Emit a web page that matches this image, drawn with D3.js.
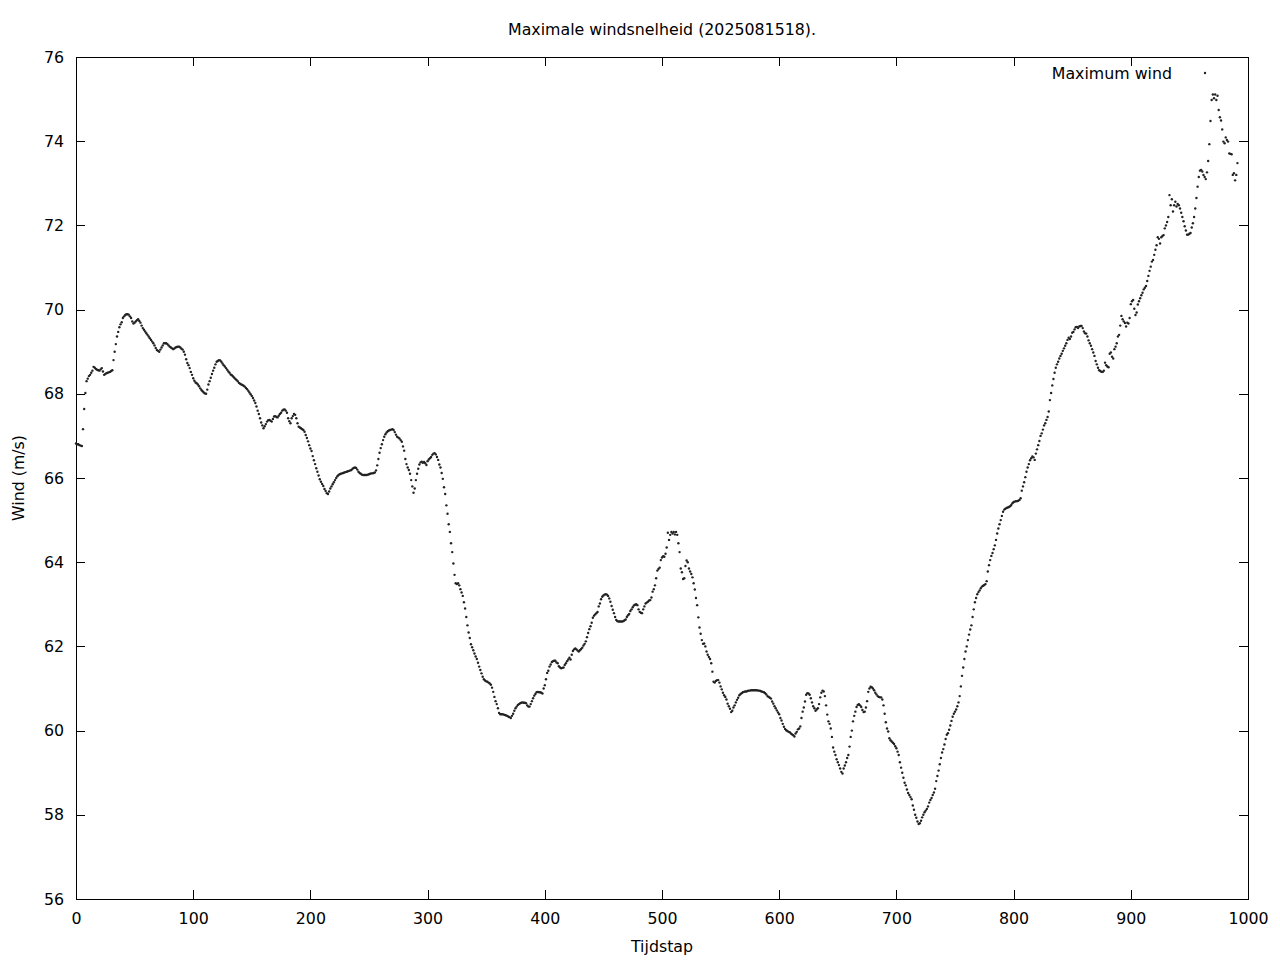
<!DOCTYPE html>
<html>
<head>
<meta charset="utf-8">
<script src="https://cdn.jsdelivr.net/npm/d3@7"></script>
<style>
  html, body { margin: 0; padding: 0; background: #fff; }
  svg { display: block; font-family: "DejaVu Sans", sans-serif; }
</style>
</head>
<body>
<svg id="chart" width="1280" height="960"></svg>
<script>
// ---- data ----
const titleText = "Maximale windsnelheid (2025081518).";
const xLabel = "Tijdstap";
const yLabel = "Wind (m/s)";
const seriesName = "Maximum wind";
const xTicks = [0, 100, 200, 300, 400, 500, 600, 700, 800, 900, 1000];
const yTicks = [56, 58, 60, 62, 64, 66, 68, 70, 72, 74, 76];
const xDomain = [0, 1000];
const yDomain = [56, 76];
// maximum wind per time step (index = Tijdstap)
const windValues = [
66.82,66.8,66.8,66.78,66.77,66.76,67.16,67.64,68.02,68.3,
68.36,68.42,68.45,68.5,68.55,68.64,68.62,68.59,68.57,68.56,
68.55,68.58,68.61,68.53,68.45,68.47,68.49,68.5,68.51,68.52,
68.54,68.56,68.8,69.0,69.18,69.36,69.47,69.58,69.65,69.7,
69.8,69.84,69.87,69.89,69.89,69.88,69.84,69.8,69.72,69.67,
69.69,69.72,69.75,69.77,69.73,69.69,69.62,69.56,69.52,69.48,
69.44,69.4,69.36,69.32,69.28,69.24,69.2,69.15,69.09,69.04,
69.02,69.0,69.05,69.1,69.15,69.2,69.2,69.2,69.18,69.15,
69.12,69.1,69.08,69.06,69.08,69.1,69.11,69.12,69.12,69.1,
69.07,69.05,69.0,68.93,68.82,68.73,68.68,68.61,68.52,68.45,
68.37,68.31,68.27,68.25,68.22,68.18,68.13,68.09,68.06,68.03,
68.01,68.0,68.1,68.22,68.3,68.38,68.47,68.55,68.62,68.7,
68.76,68.78,68.8,68.79,68.76,68.72,68.68,68.65,68.61,68.57,
68.53,68.5,68.46,68.44,68.41,68.38,68.35,68.33,68.3,68.26,
68.24,68.22,68.21,68.19,68.17,68.14,68.11,68.07,68.03,67.99,
67.95,67.9,67.84,67.78,67.7,67.6,67.52,67.42,67.32,67.25,
67.18,67.23,67.28,67.34,67.37,67.38,67.36,67.34,67.4,67.46,
67.47,67.45,67.44,67.48,67.52,67.55,67.6,67.62,67.63,67.6,
67.55,67.42,67.35,67.3,67.42,67.47,67.52,67.5,67.42,67.3,
67.22,67.2,67.18,67.16,67.14,67.1,67.02,66.95,66.87,66.78,
66.7,66.64,66.52,66.42,66.33,66.23,66.15,66.06,65.97,65.91,
65.86,65.81,65.74,65.69,65.64,65.62,65.68,65.75,65.8,65.85,
65.9,65.95,66.0,66.04,66.07,66.09,66.1,66.11,66.12,66.13,
66.14,66.15,66.16,66.17,66.18,66.19,66.22,66.24,66.25,66.24,
66.2,66.15,66.12,66.1,66.08,66.07,66.07,66.07,66.07,66.08,
66.09,66.1,66.11,66.11,66.12,66.13,66.18,66.3,66.45,66.6,
66.71,66.8,66.9,66.98,67.04,67.08,67.11,67.13,67.14,67.15,
67.16,67.14,67.09,67.03,66.98,66.96,66.94,66.9,66.86,66.75,
66.65,66.45,66.33,66.25,66.19,66.1,65.95,65.8,65.65,65.75,
65.95,66.1,66.22,66.32,66.37,66.39,66.36,66.38,66.35,66.31,
66.4,66.44,66.47,66.5,66.55,66.58,66.59,66.56,66.5,66.43,
66.32,66.25,66.12,65.98,65.78,65.62,65.35,65.15,64.9,64.72,
64.45,64.24,63.97,63.7,63.5,63.48,63.5,63.45,63.36,63.28,
63.2,63.05,62.9,62.7,62.5,62.33,62.2,62.05,61.98,61.91,
61.83,61.76,61.7,61.61,61.52,61.44,61.36,61.28,61.22,61.19,
61.17,61.16,61.14,61.12,61.09,61.02,60.92,60.8,60.7,60.63,
60.53,60.42,60.39,60.39,60.39,60.38,60.37,60.36,60.35,60.33,
60.32,60.3,60.35,60.4,60.47,60.53,60.57,60.61,60.63,60.65,
60.66,60.67,60.66,60.66,60.65,60.6,60.57,60.57,60.63,60.7,
60.77,60.83,60.87,60.91,60.92,60.91,60.91,60.9,60.88,61.0,
61.08,61.22,61.37,61.42,61.52,61.57,61.63,61.65,61.66,61.66,
61.62,61.6,61.53,61.5,61.48,61.49,61.5,61.56,61.6,61.65,
61.69,61.73,61.69,61.8,61.89,61.93,61.95,61.93,61.9,61.88,
61.91,61.94,61.97,62.02,62.06,62.12,62.22,62.32,62.41,62.48,
62.56,62.68,62.73,62.76,62.79,62.82,62.95,63.02,63.12,63.18,
63.21,63.23,63.24,63.23,63.2,63.14,63.06,62.96,62.87,62.79,
62.7,62.63,62.6,62.59,62.59,62.59,62.59,62.6,62.62,62.64,
62.7,62.74,62.77,62.84,62.88,62.93,62.97,62.99,63.0,62.98,
62.88,62.82,62.8,62.79,62.88,62.95,63.02,63.04,63.06,63.09,
63.1,63.16,63.3,63.36,63.45,63.62,63.8,63.84,63.87,64.05,
64.11,64.14,64.13,64.2,64.35,64.7,64.53,64.65,64.72,64.68,
64.72,64.66,64.72,64.65,64.45,64.24,63.85,63.76,63.6,63.62,
63.91,64.04,64.0,63.85,63.78,63.72,63.64,63.5,63.35,63.15,
62.98,62.69,62.45,62.3,62.15,62.06,62.07,62.0,61.88,61.8,
61.75,61.7,61.6,61.4,61.16,61.14,61.18,61.2,61.2,61.14,
61.05,60.98,60.9,60.84,60.8,60.74,60.64,60.58,60.52,60.44,
60.47,60.55,60.6,60.67,60.73,60.78,60.84,60.87,60.89,60.91,
60.92,60.93,60.93,60.94,60.95,60.95,60.96,60.96,60.96,60.96,
60.96,60.96,60.95,60.95,60.94,60.93,60.92,60.91,60.89,60.86,
60.82,60.8,60.78,60.76,60.69,60.64,60.58,60.53,60.48,60.43,
60.39,60.3,60.24,60.16,60.09,60.04,60.01,59.99,59.97,59.96,
59.93,59.91,59.89,59.86,59.93,59.97,60.03,60.05,60.1,60.3,
60.45,60.55,60.69,60.85,60.89,60.88,60.85,60.77,60.67,60.58,
60.53,60.47,60.5,60.53,60.63,60.79,60.9,60.95,60.93,60.82,
60.6,60.38,60.22,60.16,60.05,59.85,59.6,59.5,59.42,59.32,
59.25,59.18,59.1,59.02,58.98,59.1,59.17,59.25,59.35,59.42,
59.62,59.85,60.0,60.22,60.35,60.45,60.56,60.61,60.63,60.6,
60.56,60.49,60.44,60.45,60.55,60.7,60.92,61.0,61.04,61.03,
61.0,60.96,60.9,60.86,60.82,60.8,60.79,60.79,60.74,60.6,
60.4,60.2,60.05,59.98,59.82,59.77,59.74,59.71,59.68,59.63,
59.58,59.5,59.42,59.25,59.12,59.0,58.88,58.76,58.7,58.6,
58.52,58.47,58.42,58.37,58.22,58.12,58.0,57.93,57.84,57.78,
57.8,57.86,57.94,58.0,58.06,58.1,58.14,58.2,58.29,58.35,
58.4,58.47,58.53,58.62,58.8,58.92,59.05,59.2,59.35,59.48,
59.56,59.67,59.8,59.9,59.94,60.02,60.12,60.23,60.33,60.4,
60.45,60.5,60.58,60.67,60.82,61.05,61.3,61.5,61.7,61.88,
62.0,62.15,62.28,62.4,62.5,62.7,62.88,63.05,63.15,63.24,
63.29,63.33,63.38,63.42,63.44,63.46,63.48,63.55,63.78,63.93,
64.05,64.15,64.22,64.31,64.4,64.53,64.68,64.8,64.9,65.0,
65.1,65.2,65.25,65.27,65.29,65.3,65.31,65.33,65.36,65.4,
65.43,65.44,65.45,65.45,65.46,65.48,65.52,65.7,65.8,65.9,
66.02,66.15,66.25,66.33,66.42,66.47,66.51,66.49,66.43,66.58,
66.68,66.78,66.88,67.0,67.06,67.15,67.25,67.3,67.38,67.45,
67.58,67.85,68.02,68.2,68.35,68.5,68.62,68.7,68.76,68.84,
68.9,68.95,69.02,69.08,69.14,69.2,69.28,69.33,69.3,69.36,
69.45,69.47,69.53,69.58,69.59,69.56,69.6,69.61,69.61,69.56,
69.48,69.44,69.43,69.36,69.27,69.2,69.14,69.06,68.98,68.9,
68.78,68.7,68.62,68.56,68.54,68.52,68.52,68.55,68.74,68.68,
68.65,68.63,68.95,68.98,68.88,68.84,69.06,69.12,69.2,69.36,
69.4,69.62,69.85,69.77,69.72,69.68,69.6,69.69,69.67,69.8,
70.13,70.2,70.23,70.02,69.87,69.93,70.12,70.2,70.27,70.34,
70.4,70.48,70.52,70.56,70.68,70.8,70.92,71.02,71.14,71.18,
71.3,71.42,71.53,71.72,71.68,71.57,71.72,71.75,71.77,71.93,
72.0,72.08,72.2,72.72,72.48,72.62,72.33,72.48,72.56,72.45,
72.51,72.48,72.4,72.3,72.2,72.1,71.98,71.88,71.78,71.78,
71.8,71.82,71.95,72.05,72.2,72.4,72.65,72.92,73.15,73.3,
73.32,73.28,73.2,73.15,73.1,73.26,73.53,73.93,74.48,74.98,
75.11,75.02,75.11,74.98,75.08,74.74,74.57,74.49,74.28,73.99,
73.95,74.09,74.03,73.99,73.71,73.7,73.69,73.2,73.24,73.07,
73.2,73.48
];
const timeSteps = d3.range(windValues.length);

// ---- layout ----
const plot = { left: 76, top: 57, right: 1248, bottom: 899 };
const fontSize = 15.8;
const tickLen = 9;
const dotColor = "#222";

const svg = d3.select("#chart");
const x = d3.scaleLinear().domain(xDomain).range([plot.left, plot.right]);
const y = d3.scaleLinear().domain(yDomain).range([plot.bottom, plot.top]);

function styleAxis(g, hideText) {
  g.select(".domain").remove();
  g.selectAll("line").attr("stroke", "#000").attr("stroke-width", 1).attr("shape-rendering", "crispEdges");
  g.selectAll("text").attr("font-size", fontSize).attr("font-family", "DejaVu Sans, sans-serif").attr("fill", "#000");
  if (hideText) g.selectAll("text").remove();
}

svg.append("g").attr("transform", `translate(0,${plot.bottom})`)
  .call(d3.axisBottom(x).tickValues(xTicks).tickFormat(d3.format("d")).tickSize(-tickLen).tickPadding(14))
  .call(g => styleAxis(g, false));
svg.append("g").attr("transform", `translate(0,${plot.top})`)
  .call(d3.axisTop(x).tickValues(xTicks).tickSize(-tickLen))
  .call(g => styleAxis(g, true));
svg.append("g").attr("transform", `translate(${plot.left},0)`)
  .call(d3.axisLeft(y).tickValues(yTicks).tickFormat(d3.format("d")).tickSize(-tickLen).tickPadding(12))
  .call(g => styleAxis(g, false));
svg.append("g").attr("transform", `translate(${plot.right},0)`)
  .call(d3.axisRight(y).tickValues(yTicks).tickSize(-tickLen))
  .call(g => styleAxis(g, true));

// frame
svg.append("rect")
  .attr("x", plot.left + 0.5).attr("y", plot.top + 0.5)
  .attr("width", plot.right - plot.left).attr("height", plot.bottom - plot.top)
  .attr("fill", "none").attr("stroke", "#000").attr("stroke-width", 1);

// points
svg.append("g").selectAll("circle")
  .data(timeSteps)
  .join("circle")
  .attr("cx", i => x(i))
  .attr("cy", i => y(windValues[i]))
  .attr("r", 1.2)
  .attr("fill", dotColor);

// title & axis labels
svg.append("text").attr("x", (plot.left + plot.right) / 2).attr("y", 29).attr("dy", "0.35em")
  .attr("text-anchor", "middle").attr("font-size", fontSize).text(titleText);
svg.append("text").attr("x", (plot.left + plot.right) / 2).attr("y", 946).attr("dy", "0.35em")
  .attr("text-anchor", "middle").attr("font-size", fontSize).text(xLabel);
svg.append("text").attr("transform", `translate(18,${(plot.top + plot.bottom) / 2}) rotate(-90)`)
  .attr("dy", "0.35em").attr("text-anchor", "middle").attr("font-size", fontSize).text(yLabel);

// legend
svg.append("text").attr("x", 1172).attr("y", 73).attr("dy", "0.35em")
  .attr("text-anchor", "end").attr("font-size", fontSize).text(seriesName);
svg.append("circle").attr("cx", 1205).attr("cy", 73).attr("r", 1.2).attr("fill", dotColor);
</script>
</body>
</html>
